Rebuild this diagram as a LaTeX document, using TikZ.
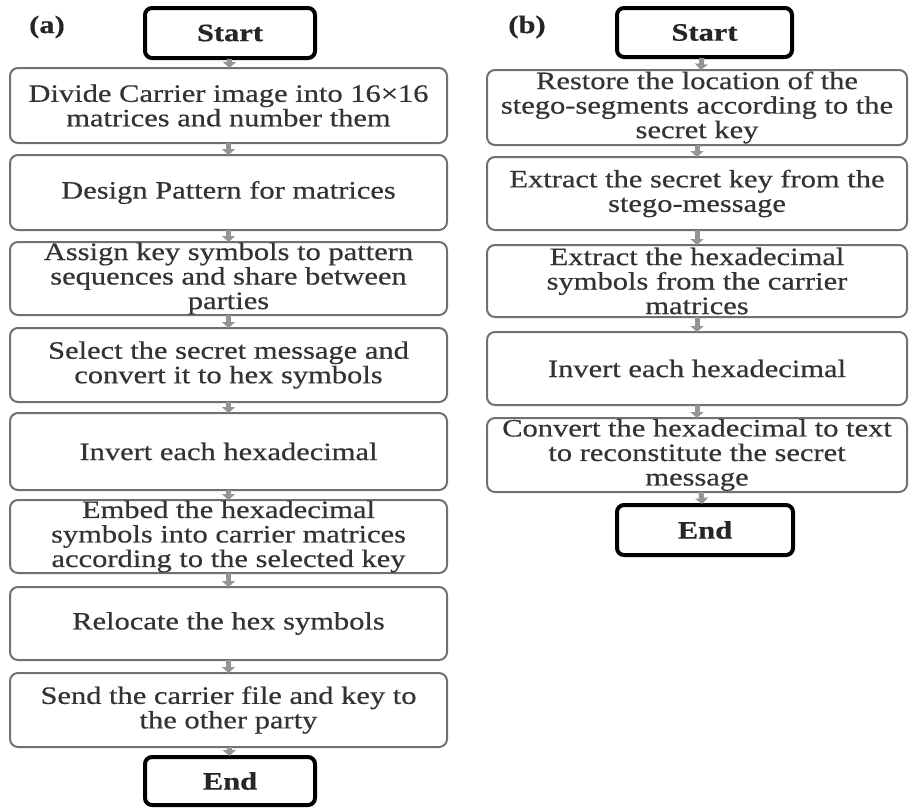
\documentclass[tikz,border=0pt]{standalone}
\usepackage{fontspec}
\setmainfont{Liberation Serif}[FakeStretch=1.22, FakeBold=0.5]
\usetikzlibrary{arrows.meta}
\definecolor{inkgray}{HTML}{333333}
\definecolor{framegray}{HTML}{707070}
\definecolor{linkgray}{HTML}{959595}
\tikzset{
  stepbox/.style={draw=framegray, line width=2pt, rounded corners=8pt,
    fill=white, text=inkgray, align=center, inner sep=0pt,
    font=\fontsize{25}{24.5}\selectfont},
  leftbox/.style={stepbox, minimum width=437pt},
  rightbox/.style={stepbox, minimum width=420pt},
  termbox/.style={draw=black, line width=4pt, rounded corners=7pt,
    fill=white, text=black!85, inner sep=0pt,
    font=\fontsize{25}{25}\selectfont\bfseries},
  panel/.style={text=black!85, font=\fontsize{25}{25}\selectfont\bfseries},
  link/.style={draw=linkgray, line width=5pt,
    -{Triangle[length=6pt,width=13pt]}, shorten <=-1pt, shorten >=-1pt}
}
\begin{document}
\begin{tikzpicture}[x=1pt,y=-1pt]
\useasboundingbox (0,0) rectangle (909,807);

% ---- (a) embedding procedure ----
\node[panel] (la) at (47,27) {(a)};
\node[termbox, minimum width=170pt, minimum height=50pt] (as) at (230,33) {Start};
\node[leftbox, minimum height=75pt] (a1) at (228.5,105.5)
  {Divide Carrier image into 16×16\\matrices and number them};
\node[leftbox, minimum height=75pt] (a2) at (228.5,192.5)
  {Design Pattern for matrices};
\node[leftbox, minimum height=73pt] (a3) at (228.5,278.5)
  {Assign key symbols to pattern\\sequences and share between\\parties};
\node[leftbox, minimum height=74pt] (a4) at (228.5,365)
  {Select the secret message and\\convert it to hex symbols};
\node[leftbox, minimum height=77pt] (a5) at (228.5,451.5)
  {Invert each hexadecimal};
\node[leftbox, minimum height=73pt] (a6) at (228.5,536.5)
  {Embed the hexadecimal\\symbols into carrier matrices\\according to the selected key};
\node[leftbox, minimum height=73pt] (a7) at (228.5,623.5)
  {Relocate the hex symbols};
\node[leftbox, minimum height=74pt] (a8) at (228.5,710)
  {Send the carrier file and key to\\the other party};
\node[termbox, minimum width=170pt, minimum height=48pt] (ae) at (230,781) {End};

\draw[link] (as) -- (a1);
\draw[link] (a1) -- (a2);
\draw[link] (a2) -- (a3);
\draw[link] (a3) -- (a4);
\draw[link] (a4) -- (a5);
\draw[link] (a5) -- (a6);
\draw[link] (a6) -- (a7);
\draw[link] (a7) -- (a8);
\draw[link] (a8) -- (ae);

% ---- (b) extraction procedure ----
\node[panel] (lb) at (527,27) {(b)};
\node[termbox, minimum width=175pt, minimum height=49pt] (bs) at (704.5,32.5) {Start};
\node[rightbox, minimum height=75pt] (b1) at (697,107.5)
  {Restore the location of the\\stego-segments according to the\\secret key};
\node[rightbox, minimum height=73pt] (b2) at (697,193.5)
  {Extract the secret key from the\\stego-message};
\node[rightbox, minimum height=72pt] (b3) at (697,281)
  {Extract the hexadecimal\\symbols from the carrier\\matrices};
\node[rightbox, minimum height=73pt] (b4) at (697,368.5)
  {Invert each hexadecimal};
\node[rightbox, minimum height=74pt] (b5) at (697,455)
  {Convert the hexadecimal to text\\to reconstitute the secret\\message};
\node[termbox, minimum width=176pt, minimum height=50pt] (be) at (705,530) {End};

\draw[link] (bs) -- (b1);
\draw[link] (b1) -- (b2);
\draw[link] (b2) -- (b3);
\draw[link] (b3) -- (b4);
\draw[link] (b4) -- (b5);
\draw[link] (b5) -- (be);
\end{tikzpicture}
\end{document}
